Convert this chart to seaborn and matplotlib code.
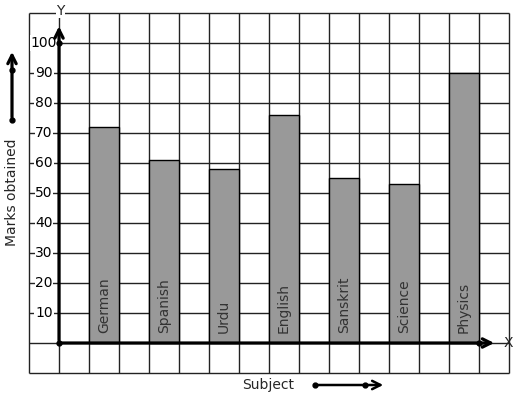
import numpy as np
import pandas as pd
import matplotlib
matplotlib.use("Agg")
import matplotlib.pyplot as plt
import seaborn as sns

subjects = ["German", "Spanish", "Urdu", "English", "Sanskrit", "Science", "Physics"]
marks = [72, 61, 58, 76, 55, 53, 90]
y_ticks = [10, 20, 30, 40, 50, 60, 70, 80, 90, 100]

sns.set_theme(style="white")
plt.rcParams["font.family"] = ["DejaVu Sans"]

df = pd.DataFrame({"subject": subjects, "marks": marks})
df["pos"] = 1.5 + 2 * np.arange(len(df))

fig = plt.figure(figsize=(5.17, 3.99), dpi=100)
ax = fig.add_axes([0, 0, 1, 1])
ax.set_xlim(-59 / 30, (517 - 59) / 30)
ax.set_ylim(-(399 - 343) / 3, 343 / 3)
ax.axis("off")

# grid
ax.hlines(np.arange(-10, 111, 10), -1, 15, color="#222222", lw=1.0, zorder=1)
ax.vlines(np.arange(-1, 16, 1), -10, 110, color="#222222", lw=1.0, zorder=1)

sns.barplot(data=df, x="pos", y="marks", native_scale=True, width=0.5,
            color="#999999", saturation=1, edgecolor="black", linewidth=1.0,
            ax=ax, zorder=2)
ax.set_xlim(-59 / 30, (517 - 59) / 30)
ax.set_ylim(-(399 - 343) / 3, 343 / 3)
ax.axis("off")

for p, s in zip(df["pos"], df["subject"]):
    ax.text(p, 3.2, s, rotation=90, ha="center", va="bottom",
            fontsize=10, color="#333333", zorder=3)

for t in y_ticks:
    ax.text(-0.5, t, str(t), ha="center", va="center", fontsize=10, color="black",
            zorder=3, bbox=dict(boxstyle="square,pad=0.05", fc="white", ec="none"))

# axes arrows
ax.annotate("", xy=(0, 106.5), xytext=(0, 0),
            arrowprops=dict(arrowstyle="->,head_length=0.5,head_width=0.25", lw=2.3, color="black"),
            zorder=4)
ax.annotate("", xy=(14.6, 0), xytext=(0, 0),
            arrowprops=dict(arrowstyle="->,head_length=0.5,head_width=0.25", lw=2.3, color="black"),
            zorder=4)
ax.plot([0, 0, 14], [0, 100, 0], "o", color="black", ms=3.5, zorder=5)
ax.text(0.05, 110.8, "Y", ha="center", va="center", fontsize=10, zorder=5,
        bbox=dict(boxstyle="square,pad=0.05", fc="white", ec="none"))
ax.text(14.97, 0, "X", ha="center", va="center", fontsize=10, zorder=5)

# side arrow (marks)
xs = (12 - 59) / 30
ax.annotate("", xy=(xs, (343 - 49) / 3), xytext=(xs, (343 - 120) / 3),
            arrowprops=dict(arrowstyle="->,head_length=0.5,head_width=0.25", lw=2.3, color="black"),
            annotation_clip=False)
ax.plot([xs, xs], [(343 - 120) / 3, (343 - 70) / 3], "o", color="black", ms=3.5, clip_on=False)
ax.text(xs, (343 - 192) / 3, "Marks obtained", rotation=90, ha="center", va="center", fontsize=10)

# bottom arrow (subject)
yb = (343 - 385) / 3
ax.annotate("", xy=((386 - 59) / 30, yb), xytext=((315 - 59) / 30, yb),
            arrowprops=dict(arrowstyle="->,head_length=0.5,head_width=0.25", lw=1.8, color="black"),
            annotation_clip=False)
ax.plot([(315 - 59) / 30, (365 - 59) / 30], [yb, yb], "o", color="black", ms=3.5, clip_on=False)
ax.text((268 - 59) / 30, yb, "Subject", ha="center", va="center", fontsize=10)

fig.savefig("out.png", dpi=100)
